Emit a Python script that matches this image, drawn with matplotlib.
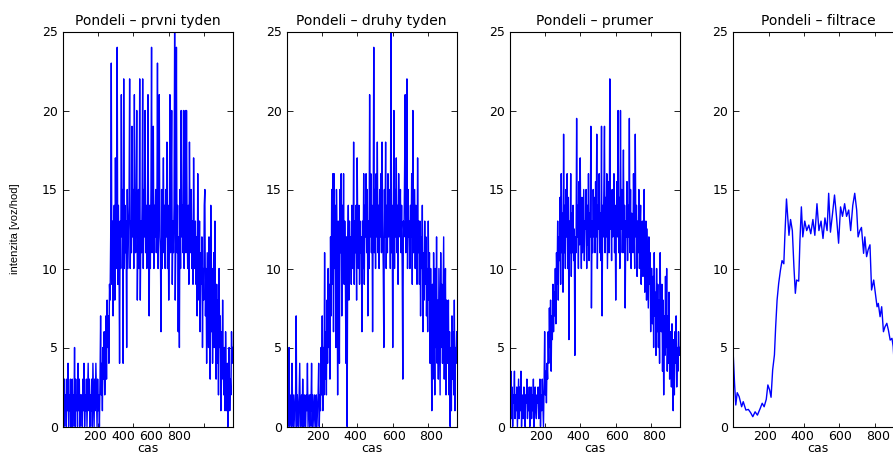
import numpy as np
import matplotlib
matplotlib.use("Agg")
import matplotlib.pyplot as plt
from matplotlib.transforms import ScaledTranslation

# titles of the four panels
titles = ["Pondeli – prvni tyden", "Pondeli – druhy tyden",
          "Pondeli – prumer", "Pondeli – filtrace"]

# intensity, first week (sampled along the day)
week1 = [6, 2, 0, 3, 1, 2, 0, 3, 1, 4, 0, 2, 1, 3, 0, 2,
         3, 0, 2, 1, 5, 0, 3, 1, 2, 0, 4, 1, 3, 0, 2, 1,
         2, 0, 3, 1, 4, 0, 2, 1, 3, 0, 2, 4, 1, 3, 0, 2,
         1, 3, 0, 4, 2, 0, 3, 1, 4, 2, 0, 3, 1, 2, 0, 3,
         7, 2, 4, 1, 5, 3, 6, 2, 4, 7, 3, 8, 5, 7, 4, 9,
         8, 12, 23, 9, 13, 7, 11, 14, 8, 17, 10, 13, 24, 9, 14, 11,
         4, 13, 10, 21, 12, 15, 4, 22, 10, 14, 11, 13, 5, 15, 10, 12,
         14, 22, 10, 13, 11, 19, 12, 15, 10, 21, 13, 11, 14, 20, 8, 12,
         15, 10, 22, 8, 13, 11, 14, 22, 10, 15, 12, 20, 11, 14, 10, 13,
         21, 12, 7, 14, 10, 15, 24, 11, 13, 19, 10, 14, 12, 15, 11, 13,
         23, 10, 14, 21, 12, 11, 6, 15, 10, 13, 17, 11, 14, 10, 15, 12,
         18, 10, 14, 8, 12, 21, 11, 15, 20, 9, 13, 11, 14, 25, 8, 12,
         24, 11, 14, 6, 12, 5, 15, 10, 20, 12, 14, 11, 20, 10, 13, 20,
         11, 20, 13, 10, 14, 9, 18, 12, 11, 15, 10, 13, 9, 17, 12, 10,
         13, 9, 12, 7, 16, 10, 8, 13, 6, 11, 9, 12, 5, 10, 8, 14,
         15, 7, 10, 4, 11, 8, 5, 12, 9, 3, 14, 6, 10, 4, 8, 11,
         5, 13, 7, 3, 9, 4, 8, 2, 10, 5, 7, 1, 6, 3, 8, 4,
         2, 5, 1, 6, 3, 1, 4, 0, 2, 5, 1, 3, 2, 6, 4, 5]

# intensity, second week
week2 = [5, 1, 0, 2, 5, 0, 1, 2, 0, 4, 1, 0, 2, 1, 0, 2,
         7, 0, 2, 1, 0, 2, 4, 0, 1, 2, 0, 3, 1, 0, 2, 1,
         0, 2, 1, 4, 0, 1, 2, 0, 2, 1, 4, 0, 2, 1, 0, 2,
         1, 0, 2, 0, 1, 2, 4, 0, 2, 1, 5, 2, 7, 1, 5, 2,
         11, 3, 6, 2, 8, 4, 10, 5, 9, 3, 12, 7, 15, 9, 16, 6,
         16, 10, 14, 5, 15, 12, 2, 13, 8, 4, 15, 11, 16, 7, 14, 10,
         16, 9, 13, 10, 4, 12, 0, 11, 14, 8, 13, 10, 12, 9, 14, 11,
         10, 18, 9, 13, 11, 14, 8, 17, 12, 10, 14, 9, 13, 11, 12, 6,
         13, 10, 16, 9, 14, 12, 16, 11, 15, 7, 13, 10, 21, 12, 16, 11,
         14, 6, 13, 24, 11, 15, 10, 16, 12, 18, 11, 14, 10, 15, 12, 16,
         11, 18, 13, 10, 5, 15, 12, 18, 10, 14, 11, 16, 12, 13, 15, 10,
         25, 11, 14, 5, 13, 20, 10, 15, 12, 17, 11, 14, 9, 16, 12, 13,
         15, 11, 14, 10, 3, 13, 12, 16, 21, 11, 14, 22, 10, 15, 12, 13,
         10, 14, 12, 16, 9, 20, 11, 13, 15, 10, 14, 12, 9, 17, 11, 13,
         9, 13, 7, 12, 10, 14, 6, 11, 8, 13, 9, 12, 7, 10, 6, 13,
         8, 11, 4, 10, 6, 1, 9, 3, 11, 7, 2, 10, 5, 12, 4, 8,
         3, 10, 6, 2, 11, 5, 9, 4, 8, 12, 3, 7, 10, 2, 8, 5,
         4, 8, 2, 6, 0, 5, 1, 7, 3, 6, 2, 8, 1, 5, 4, 6]

# average of both weeks
mean_vals = [4.5, 1, 3.5, 0.5, 2.5, 0, 2, 1.5, 3.5, 0.5, 2, 1, 2.5, 0, 1.5, 3,
             0.5, 2.5, 1, 3.5, 0, 2, 1.5, 0.5, 2.5, 1, 0, 2, 1.5, 3, 0.5, 2,
             1, 2.5, 0, 1.5, 2.5, 0.5, 2, 1, 3, 0, 1.5, 2.5, 1, 0.5, 2, 1.5,
             2.5, 0.5, 1.5, 3, 0, 2, 1, 3, 1.5, 0, 2.5, 6, 2, 3.5, 1.5, 4,
             3, 6, 4, 7.5, 5, 8, 3.5, 7, 5.5, 9, 6, 8.5, 7, 10, 6.5, 11,
             9, 13, 8, 12, 10.5, 14.5, 9, 16, 11, 13.5, 8.5, 18.5, 11, 14, 10, 15,
             12, 16, 10, 14.5, 5.5, 13, 11, 16, 9.5, 13.5, 11, 14, 10.5, 12.5, 4.5, 12,
             11, 19.5, 12, 14, 10, 15.5, 11.5, 17, 12.5, 10, 14.5, 11, 13, 15, 10.5, 13,
             12.5, 15, 10, 14, 11.5, 16, 10.5, 13.5, 12, 19, 7.5, 13, 11, 15, 12, 14.5,
             11, 15.5, 12, 18.5, 10, 14, 12.5, 16, 11, 13.5, 10.5, 19, 7, 14, 12, 15,
             19, 11, 14.5, 12, 16, 10, 13, 15.5, 11, 22, 12.5, 14, 10.5, 15, 12, 13.5,
             16, 11, 14, 8, 13, 15.5, 12, 20, 11, 14.5, 10, 20, 12.5, 15, 11, 13,
             17.5, 11, 14, 7.5, 13, 12, 15.5, 10.5, 14, 12, 19.5, 11, 15, 10, 13.5, 12,
             11, 16, 12.5, 10, 18.5, 12, 14, 9.5, 13, 11, 15, 10, 12.5, 14, 9, 12,
             13, 9.5, 12, 15, 8.5, 11, 13, 8, 12.5, 10, 7.5, 12, 9, 11, 6, 10,
             10, 6.5, 9.5, 5, 11, 7, 8.5, 4.5, 10, 6, 9, 5, 8, 4, 11, 7,
             6, 9, 3.5, 8, 2, 7, 4.5, 9.5, 5, 10, 3.5, 7, 4, 8.5, 3, 6,
             5, 2.5, 6.5, 3, 1, 5.5, 2, 6, 4, 7, 2.5, 5, 3.5, 6, 4.5, 5]

# filtered curve
filt_x = [1, 8, 15, 23, 34, 48, 57, 72, 86, 99,
          111, 124, 137, 153, 164, 175, 187, 196, 206, 214,
          223, 233, 240, 248, 257, 267, 276, 286, 292, 301,
          309, 315, 324, 334, 343, 351, 358, 370, 377, 385,
          393, 404, 415, 427, 438, 450, 461, 473, 484, 496,
          507, 518, 530, 539, 549, 560, 572, 583, 595, 606,
          617, 629, 640, 652, 663, 675, 686, 697, 705, 715,
          724, 736, 743, 753, 762, 772, 781, 793, 800, 812,
          819, 829, 838, 848, 857, 867, 876, 886, 896, 903, 911]
filt_y = [4.46, 2.73, 1.36, 2.14, 1.89, 1.25, 1.57, 1.04, 1.08, 0.87,
          0.62, 0.93, 0.72, 1.15, 1.47, 1.25, 1.72, 2.63, 2.31, 1.85,
          3.58, 4.53, 6.32, 8.0, 9.06, 9.9, 10.5, 10.3, 12.1, 14.4,
          13.1, 12.1, 13.1, 12.4, 10.1, 8.43, 9.27, 9.2, 11.8, 13.9,
          12.0, 13.0, 12.4, 12.75, 12.2, 13.1, 12.1, 14.1, 12.4, 13.0,
          11.9, 13.2, 12.4, 14.76, 12.3, 13.4, 14.65, 13.3, 11.6, 13.9,
          13.3, 14.1, 13.3, 13.7, 12.4, 14.0, 14.76, 13.7, 12.0, 12.4,
          12.6, 10.96, 12.0, 10.75, 11.2, 11.5, 8.64, 9.27, 8.64, 7.58,
          7.79, 6.95, 7.58, 6.0, 6.32, 6.53, 6.1, 5.47, 5.58, 5.05, 3.58]

xticks = [200, 400, 600, 800]
yticks = [0, 5, 10, 15, 20, 25]

series = [
    (np.linspace(1, 960, len(week1)), week1),
    (np.linspace(1, 960, len(week2)), week2),
    (np.linspace(1, 960, len(mean_vals)), mean_vals),
    (filt_x, filt_y),
]

plt.rcParams['font.family'] = ['DejaVu Sans']

fig = plt.figure(figsize=(8.93, 4.54), dpi=100)
lefts = [62.7, 286.7, 509.7, 733.3]
# tick labels in the original sit a bit off their ticks (px)
label_shift = [[-3, -10.5, -17.5, -25], [-4, -1.7, 0.7, 3],
               [-4, -1.7, 0.7, 3], [-4, -1.7, 0.7, 3]]

for i in range(4):
    ax = fig.add_axes([lefts[i] / 893, 27.5 / 454, 170 / 893, 395 / 454])
    x, y = series[i]
    ax.plot(x, y, color='#0000ff', linewidth=1.0)
    ax.set_xlim(1, 960)
    ax.set_ylim(0, 25)
    ax.set_xticks(xticks)
    ax.set_yticks(yticks)
    ax.set_title(titles[i], fontsize=10, pad=5)
    ax.set_xlabel("cas", fontsize=9, labelpad=-0.5)
    for s in ax.spines.values():
        s.set_linewidth(0.8)
    ax.tick_params(direction='in', top=True, right=True, labelsize=9, width=0.6)
    ax.tick_params(axis='x', length=3, pad=2.5)
    ax.tick_params(axis='y', length=4, pad=3.5)
    if i == 0:
        ax.set_ylabel("intenzita [voz/hod]", fontsize=8, family='Liberation Sans')
        ax.yaxis.set_label_coords(-0.25, 0.5)
    for lab, dx in zip(ax.get_xticklabels(), label_shift[i]):
        lab.set_transform(lab.get_transform() + ScaledTranslation(dx / 100, 0, fig.dpi_scale_trans))

plt.savefig("out.png", dpi=100)
